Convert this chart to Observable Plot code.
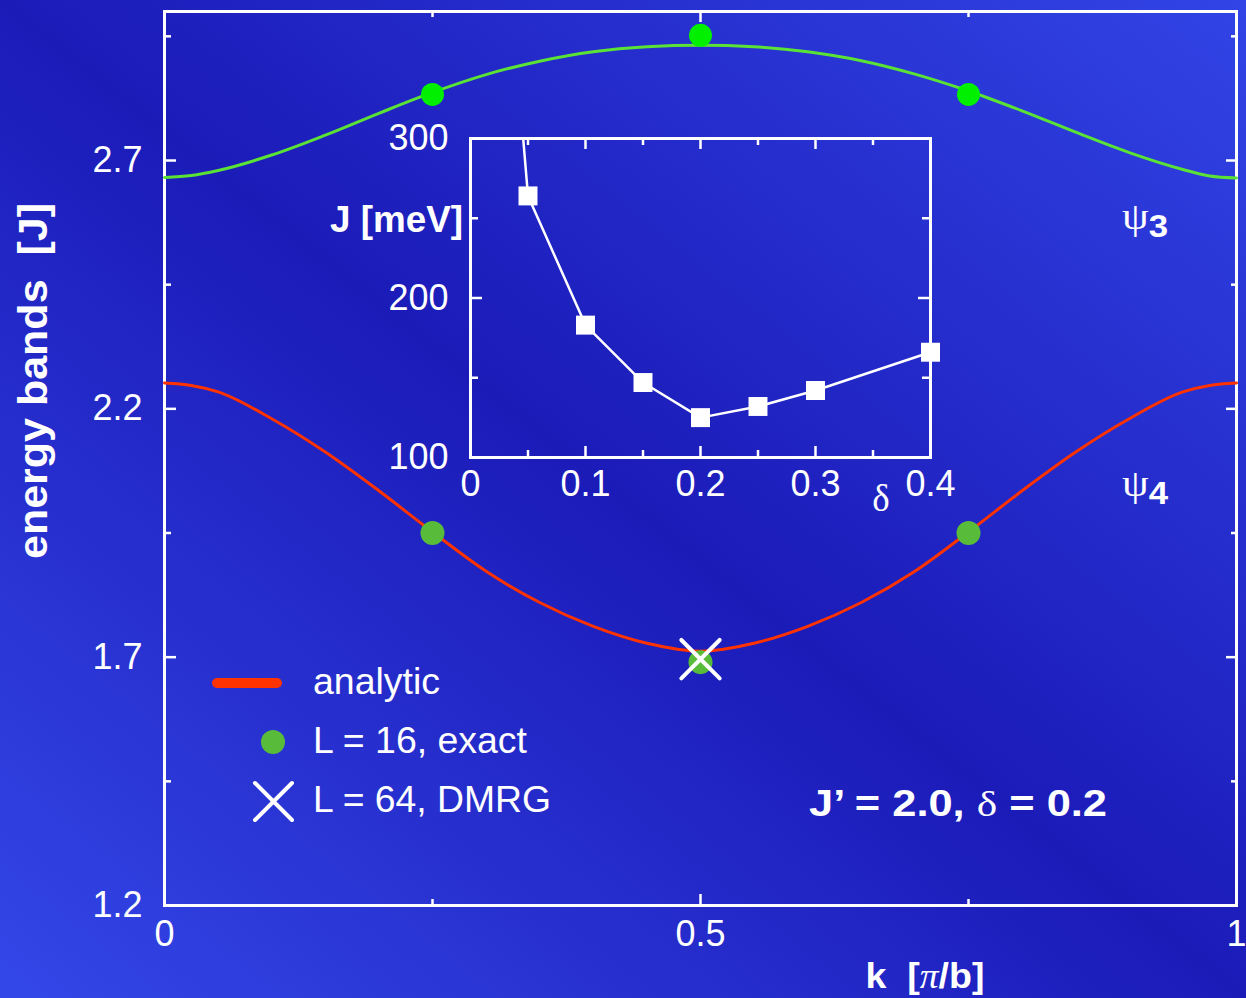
<!DOCTYPE html>
<html><head><meta charset="utf-8">
<script src="https://cdn.jsdelivr.net/npm/d3@7"></script>
<script src="https://cdn.jsdelivr.net/npm/@observablehq/plot@0.6"></script>
<style>
html,body{margin:0;padding:0;background:#1b1bb8;}
#stage{position:relative;width:1246px;height:998px;overflow:hidden;
background:linear-gradient(to top right,#3447e8 0%,#1b1bb8 50%,#3244e6 100%);
font-family:"Liberation Sans",Arial,sans-serif;color:#fff;}
#stage > svg{position:absolute;}
</style></head><body><div id="stage"></div>
<script>
// ---------- main chart data ----------
const kGrid = [0, 0.025, 0.05, 0.1, 0.15, 0.2, 0.25, 0.3, 0.35, 0.4, 0.45, 0.5, 0.55, 0.6, 0.65, 0.7, 0.75, 0.8, 0.85, 0.9, 0.95, 0.975, 1];
const upperBand = [2.666, 2.670, 2.680, 2.711, 2.751, 2.795, 2.837, 2.873, 2.900, 2.919, 2.929, 2.932, 2.929, 2.919, 2.901, 2.874, 2.840, 2.800, 2.757, 2.716, 2.682, 2.669, 2.665];
const lowerBand = [2.252, 2.247, 2.234, 2.180, 2.113, 2.035, 1.952, 1.873, 1.810, 1.762, 1.728, 1.712, 1.728, 1.762, 1.810, 1.873, 1.952, 2.035, 2.113, 2.180, 2.234, 2.247, 2.252];
const exactK = [0.25, 0.5, 0.75];
const exactUpper = [2.833, 2.952, 2.833];
const exactLower = [1.950, 1.690, 1.950];
const dmrgK = [0.5];
const dmrgLower = [1.696];
const xMajor = [0, 0.5, 1];
const xMinor = [0.25, 0.75];
const xTickLabels = ["0", "0.5", "1"];
const yMajor = [1.2, 1.7, 2.2, 2.7];
const yMinor = [1.45, 1.95, 2.45, 2.95];
const yTickLabels = ["1.2", "1.7", "2.2", "2.7"];

// ---------- inset data ----------
const insetDelta = [0.05, 0.10, 0.15, 0.20, 0.25, 0.30, 0.40];
const insetJ = [264, 183, 147, 125, 132, 142, 166];
const insetLeadDelta = [0.04];   // line enters from above the inset frame
const insetLeadJ = [350];
const ixMajor = [0, 0.1, 0.2, 0.3, 0.4];
const ixMinor = [0.05, 0.15, 0.25, 0.35];
const ixTickLabels = ["0", "0.1", "0.2", "0.3", "0.4"];
const iyMajor = [100, 200, 300];
const iyMinor = [150, 250];
const iyTickLabels = ["100", "200", "300"];

const stage = document.getElementById("stage");
const SANS = "Liberation Sans, Arial, sans-serif";
const baseStyle = {background: "transparent", color: "white", fontFamily: SANS, fontSize: "36px", overflow: "visible"};

// ---------- main plot ----------
const W = 1246, H = 998, mL = 164, mR = 10, mT = 11, mB = 93;
const fw = W - mL - mR, fh = H - mT - mB;
const bandRows = kGrid.map((k, i) => ({k, upper: upperBand[i], lower: lowerBand[i]}));
const exactRows = exactK.map((k, i) => ({k, upper: exactUpper[i], lower: exactLower[i]}));
const dmrgRows = dmrgK.map((k, i) => ({k, E: dmrgLower[i]}));
const xLab = new Map(xMajor.map((v, i) => [v, xTickLabels[i]]));
const yLab = new Map(yMajor.map((v, i) => [v, yTickLabels[i]]));
const tk = {stroke: "white", strokeWidth: 2.5};

const main = Plot.plot({
  width: W, height: H, marginLeft: mL, marginRight: mR, marginTop: mT, marginBottom: mB,
  x: {domain: [0, 1]}, y: {domain: [1.2, 3.0]},
  style: baseStyle,
  marks: [
    Plot.tickY(yMajor, {y: d => d, ...tk, insetRight: fw - 12}),
    Plot.tickY(yMinor, {y: d => d, ...tk, insetRight: fw - 7}),
    Plot.tickY(yMajor, {y: d => d, ...tk, insetLeft: fw - 10}),
    Plot.tickY(yMinor, {y: d => d, ...tk, insetLeft: fw - 5}),
    Plot.tickX(xMajor, {x: d => d, ...tk, insetTop: fh - 11}),
    Plot.tickX(xMinor, {x: d => d, ...tk, insetTop: fh - 6}),
    Plot.tickX(xMajor, {x: d => d, ...tk, insetBottom: fh - 11}),
    Plot.tickX(xMinor, {x: d => d, ...tk, insetBottom: fh - 6}),
    Plot.frame({stroke: "white", strokeWidth: 3}),
    Plot.axisY(yMajor, {tickSize: 0, tickPadding: 22, fontSize: 36, tickFormat: d => yLab.get(d), label: null}),
    Plot.axisX(xMajor, {tickSize: 0, tickPadding: 15, fontSize: 36, tickFormat: d => xLab.get(d), label: null}),
    Plot.line(bandRows, {x: "k", y: "upper", stroke: "#5be236", strokeWidth: 3, curve: "monotone-x"}),
    Plot.line(bandRows, {x: "k", y: "lower", stroke: "#ff3300", strokeWidth: 3, curve: "monotone-x"}),
    Plot.dot(exactRows, {x: "k", y: "upper", r: 11.5, fill: "#00f000", stroke: null}),
    Plot.dot(exactRows, {x: "k", y: "lower", r: 12, fill: "#58bc3a", stroke: null}),
    Plot.dot(dmrgRows, {x: "k", y: "E", symbol: "times", r: 17.5, stroke: "white", strokeWidth: 4, strokeLinecap: "round"})
  ]
});
main.style.left = "0px"; main.style.top = "0px";
stage.appendChild(main);

// ---------- inset plot ----------
const IW = 600, IH = 420, iL = 100, iR = 40, iT = 18, iB = 83;
const ifw = IW - iL - iR, ifh = IH - iT - iB;
const insetRows = insetDelta.map((d, i) => ({d, J: insetJ[i]}));
const insetLineRows = insetLeadDelta.map((d, i) => ({d, J: insetLeadJ[i]})).concat(insetRows);
const ixLab = new Map(ixMajor.map((v, i) => [v, ixTickLabels[i]]));
const iyLab = new Map(iyMajor.map((v, i) => [v, iyTickLabels[i]]));

const inset = Plot.plot({
  width: IW, height: IH, marginLeft: iL, marginRight: iR, marginTop: iT, marginBottom: iB,
  x: {domain: [0, 0.4]}, y: {domain: [100, 300]},
  style: baseStyle,
  marks: [
    Plot.tickY(iyMajor, {y: d => d, ...tk, insetRight: ifw - 12}),
    Plot.tickY(iyMinor, {y: d => d, ...tk, insetRight: ifw - 8}),
    Plot.tickY(iyMajor, {y: d => d, ...tk, insetLeft: ifw - 12}),
    Plot.tickY(iyMinor, {y: d => d, ...tk, insetLeft: ifw - 8}),
    Plot.tickX(ixMajor, {x: d => d, ...tk, insetTop: ifh - 11}),
    Plot.tickX(ixMinor, {x: d => d, ...tk, insetTop: ifh - 7}),
    Plot.tickX(ixMajor, {x: d => d, ...tk, insetBottom: ifh - 11}),
    Plot.tickX(ixMinor, {x: d => d, ...tk, insetBottom: ifh - 7}),
    Plot.frame({stroke: "white", strokeWidth: 3}),
    Plot.axisY(iyMajor, {tickSize: 0, tickPadding: 22, fontSize: 36, tickFormat: d => iyLab.get(d), label: null}),
    Plot.axisX(ixMajor, {tickSize: 0, tickPadding: 13, fontSize: 36, tickFormat: d => ixLab.get(d), label: null}),
    Plot.line(insetLineRows, {x: "d", y: "J", stroke: "white", strokeWidth: 2.5, clip: true}),
    Plot.dot(insetRows, {x: "d", y: "J", symbol: "square", r: 10.7, fill: "white", stroke: null})
  ]
});
inset.style.left = "370px"; inset.style.top = "120px";
stage.appendChild(inset);

// ---------- titles, annotations, legend ----------
const NS = "http://www.w3.org/2000/svg";
const ov = document.createElementNS(NS, "svg");
ov.setAttribute("width", W); ov.setAttribute("height", H);
ov.style.left = "0px"; ov.style.top = "0px";
ov.setAttribute("font-family", SANS);
ov.setAttribute("fill", "white");
const SERIF = "Liberation Serif, Times New Roman, serif";
ov.innerHTML = `
  <text transform="translate(47,381) rotate(-90)" text-anchor="middle" font-size="41" font-weight="bold" xml:space="preserve" textLength="356" lengthAdjust="spacingAndGlyphs">energy bands  [J]</text>
  <text x="925" y="988" text-anchor="middle" font-size="35" font-weight="bold" xml:space="preserve" textLength="119" lengthAdjust="spacingAndGlyphs">k  [<tspan font-family="${SERIF}" font-weight="normal" font-style="italic">π</tspan>/b]</text>
  <text x="1122" y="229" textLength="46" lengthAdjust="spacingAndGlyphs"><tspan font-family="${SERIF}" font-size="38">ψ</tspan><tspan font-size="31" font-weight="bold" dy="8">3</tspan></text>
  <text x="1122" y="496" textLength="46" lengthAdjust="spacingAndGlyphs"><tspan font-family="${SERIF}" font-size="38">ψ</tspan><tspan font-size="31" font-weight="bold" dy="8">4</tspan></text>
  <text x="809" y="816" font-size="36" font-weight="bold" xml:space="preserve" textLength="298" lengthAdjust="spacingAndGlyphs">J’ = 2.0, <tspan font-family="${SERIF}" font-weight="normal">δ</tspan> = 0.2</text>
  <text x="881" y="511" text-anchor="middle" font-size="37" font-family="${SERIF}">δ</text>
  <text x="463" y="232" text-anchor="end" font-size="36" font-weight="bold" textLength="133" lengthAdjust="spacingAndGlyphs">J [meV]</text>
  <line x1="217" y1="683" x2="277" y2="683" stroke="#ff3300" stroke-width="10" stroke-linecap="round"/>
  <text x="313" y="694" font-size="37" textLength="127" lengthAdjust="spacingAndGlyphs">analytic</text>
  <circle cx="273" cy="742" r="12" fill="#58bc3a"/>
  <text x="313" y="753" font-size="37" textLength="214" lengthAdjust="spacingAndGlyphs">L = 16, exact</text>
  <path d="M255,783L292,820M255,820L292,783" stroke="white" stroke-width="4" stroke-linecap="round"/>
  <text x="313" y="812" font-size="37" textLength="238" lengthAdjust="spacingAndGlyphs">L = 64, DMRG</text>
`;
stage.appendChild(ov);
</script>
</body></html>
